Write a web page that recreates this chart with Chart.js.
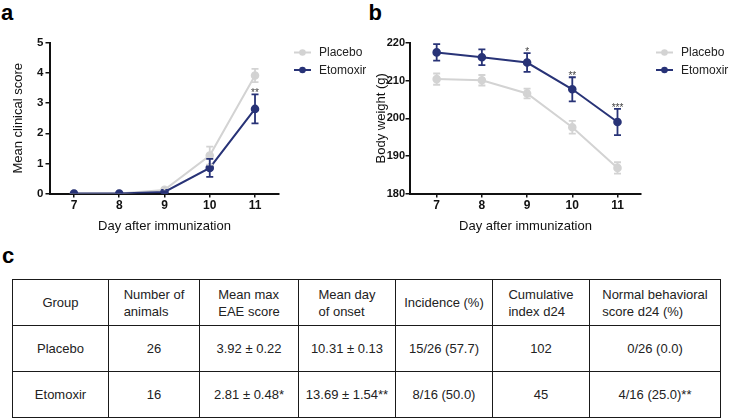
<!DOCTYPE html>
<html><head><meta charset="utf-8">
<script src="https://cdn.jsdelivr.net/npm/chart.js@4.4.0/dist/chart.umd.min.js"></script>
<style>
html,body{margin:0;padding:0;background:#fff;}
body{width:732px;height:420px;overflow:hidden;position:relative;font-family:'Liberation Sans',Arial,sans-serif;}
.wrap{position:absolute;top:0;width:366px;height:250px;}
.lbl{position:absolute;font-weight:bold;font-size:22px;line-height:22px;color:#000;}
table{position:absolute;left:12px;top:279px;border-collapse:collapse;font-size:13px;color:#222;table-layout:fixed;}
td{border:1.6px solid #1a1a1a;text-align:center;padding:0;vertical-align:middle;}
tr{height:46px;}
.hd{display:inline-block;text-align:left;line-height:17px;}
</style></head>
<body>
<div class="lbl" style="left:1px;top:1.5px">a</div>
<div class="lbl" style="left:368.5px;top:1.5px">b</div>
<div class="lbl" style="left:2px;top:245px">c</div>
<div class="wrap" style="left:0"><canvas id="ca" width="366" height="250"></canvas></div>
<div class="wrap" style="left:366px"><canvas id="cb" width="366" height="250"></canvas></div>
<table id="tbl"></table>
<script>
// ---- data ----
const days = [7, 8, 9, 10, 11];
const seriesNames = ['Placebo', 'Etomoxir'];
const scorePlacebo = [0, 0, 0.12, 1.26, 3.92];
const scorePlaceboErr = [0, 0, 0.06, 0.3, 0.22];
const scoreEtomoxir = [0, 0, 0.05, 0.85, 2.81];
const scoreEtomoxirErr = [0, 0, 0.03, 0.3, 0.48];
const scoreStars = ['', '', '', '', '**'];
const weightPlacebo = [210.4, 210.1, 206.6, 197.6, 186.8];
const weightPlaceboErr = [1.5, 1.4, 1.3, 1.7, 1.5];
const weightEtomoxir = [217.5, 216.2, 214.8, 207.7, 199.0];
const weightEtomoxirErr = [2.2, 2.1, 2.5, 3.2, 3.5];
const weightStars = ['', '', '*', '**', '***'];
const scoreTicks = [0, 1, 2, 3, 4, 5];
const weightTicks = [180, 190, 200, 210, 220];

const tableHeader = ['Group', 'Number of\nanimals', 'Mean max\nEAE score', 'Mean day\nof onset', 'Incidence (%)', 'Cumulative\nindex d24', 'Normal behavioral\nscore d24 (%)'];
const rowPlacebo = ['Placebo', '26', '3.92 ± 0.22', '10.31 ± 0.13', '15/26 (57.7)', '102', '0/26 (0.0)'];
const rowEtomoxir = ['Etomoxir', '16', '2.81 ± 0.48*', '13.69 ± 1.54**', '8/16 (50.0)', '45', '4/16 (25.0)**'];
const colWidths = [96, 91, 99, 97, 97, 97, 131];

// ---- styles ----
const NAVY = '#283377';
const GRAY = '#d3d3d3';
const FONT = "'Liberation Sans', Arial, sans-serif";

const errPlugin = {
  id: 'errbars',
  afterDatasetsDraw(chart) {
    const ctx = chart.ctx;
    const ys = chart.scales.y, xs = chart.scales.x;
    const errs = chart.options.plugins.errbars.errs;
    [0, 1].forEach(di => {
      const ds = chart.data.datasets[di];
      ctx.save();
      ctx.strokeStyle = ds.borderColor;
      ctx.lineWidth = 1.8;
      ds.data.forEach((p, i) => {
        const e = errs[di][i];
        if (!e) return;
        const x = xs.getPixelForValue(p.x);
        const y1 = ys.getPixelForValue(p.y + e);
        const y2 = ys.getPixelForValue(p.y - e);
        ctx.beginPath();
        ctx.moveTo(x, y1); ctx.lineTo(x, y2);
        ctx.moveTo(x - 3.5, y1); ctx.lineTo(x + 3.5, y1);
        ctx.moveTo(x - 3.5, y2); ctx.lineTo(x + 3.5, y2);
        ctx.stroke();
      });
      ctx.restore();
    });
    // stars above Etomoxir error bars
    const stars = chart.options.plugins.errbars.stars;
    const eds = chart.data.datasets[1];
    ctx.save();
    ctx.fillStyle = '#444';
    ctx.font = '10px ' + FONT;
    ctx.textAlign = 'center';
    ctx.textBaseline = 'alphabetic';
    stars.forEach((s, i) => {
      if (!s) return;
      const p = eds.data[i];
      const x = xs.getPixelForValue(p.x);
      const y = ys.getPixelForValue(p.y + errs[1][i]);
      ctx.fillText(s, x, y + 2);
    });
    ctx.restore();
  }
};

const legendPlugin = {
  id: 'legendLP',
  afterDraw(chart) {
    const ctx = chart.ctx;
    const x0 = chart.chartArea.right + 15;
    const rows = [[seriesNames[0], GRAY, 52.5], [seriesNames[1], NAVY, 70]];
    ctx.save();
    rows.forEach(([name, col, y]) => {
      ctx.strokeStyle = col; ctx.fillStyle = col; ctx.lineWidth = 2;
      ctx.beginPath(); ctx.moveTo(x0, y); ctx.lineTo(x0 + 17, y); ctx.stroke();
      ctx.beginPath(); ctx.arc(x0 + 8.5, y, 3.3, 0, Math.PI * 2); ctx.fill();
      ctx.fillStyle = '#222';
      ctx.font = '12px ' + FONT;
      ctx.textAlign = 'left'; ctx.textBaseline = 'middle';
      ctx.fillText(name, x0 + 25, y + 0.5);
    });
    ctx.restore();
  }
};

function pts(vals) { return vals.map((v, i) => ({ x: days[i], y: v })); }

function makeChart(id, cfg) {
  return new Chart(document.getElementById(id), {
    type: 'line',
    data: {
      datasets: [
        { label: seriesNames[0], data: pts(cfg.placebo), borderColor: GRAY, backgroundColor: GRAY,
          pointBackgroundColor: GRAY, pointBorderColor: GRAY, borderWidth: 2, pointRadius: 3.3, order: 1 },
        { label: seriesNames[1], data: pts(cfg.eto), borderColor: NAVY, backgroundColor: NAVY,
          pointBackgroundColor: NAVY, pointBorderColor: NAVY, borderWidth: 2, pointRadius: 3.3, order: 0 }
      ]
    },
    options: {
      responsive: false, animation: false, devicePixelRatio: 1,
      layout: { padding: { left: 0, right: cfg.padRight, top: 43, bottom: 0 } },
      plugins: {
        legend: { display: false }, tooltip: { enabled: false },
        errbars: { errs: [cfg.placeboErr, cfg.etoErr], stars: cfg.stars }
      },
      scales: {
        x: {
          type: 'linear', min: cfg.xmin, max: cfg.xmax,
          afterBuildTicks: s => { s.ticks = days.map(v => ({ value: v })); },
          afterFit: s => { s.height = 56.5; },
          ticks: { font: { family: FONT, size: 12, weight: 'bold' }, color: '#111', padding: 1 },
          grid: { drawOnChartArea: false, drawTicks: true, tickLength: 4, color: '#111', lineWidth: 1.5 },
          border: { color: '#111', width: 2 },
          title: { display: true, text: 'Day after immunization', font: { family: FONT, size: 13 }, color: '#111', padding: { top: 0, bottom: 15.5 } }
        },
        y: {
          min: cfg.ymin, max: cfg.ymax,
          afterBuildTicks: s => { s.ticks = cfg.yticks.map(v => ({ value: v })); },
          afterFit: s => { s.width = cfg.yWidth; },
          ticks: { font: { family: FONT, size: cfg.ytickSize, weight: 'bold' }, color: '#111', padding: cfg.ytickPad },
          grid: { drawOnChartArea: false, drawTicks: true, tickLength: 4.5, color: '#111', lineWidth: 1.5 },
          border: { color: '#111', width: 2 },
          title: { display: true, text: cfg.ytitle, font: { family: FONT, size: 13 }, color: '#111', padding: { top: cfg.titlePad, bottom: 0 } }
        }
      }
    },
    plugins: [errPlugin, legendPlugin]
  });
}

makeChart('ca', {
  placebo: scorePlacebo, placeboErr: scorePlaceboErr, eto: scoreEtomoxir, etoErr: scoreEtomoxirErr,
  stars: scoreStars, ymin: 0, ymax: 5, yticks: scoreTicks, ytitle: 'Mean clinical score',
  xmin: 6.47, xmax: 11.53, padRight: 87, yWidth: 50, titlePad: 10.5, ytickSize: 11.5, ytickPad: 2
});
makeChart('cb', {
  placebo: weightPlacebo, placeboErr: weightPlaceboErr, eto: weightEtomoxir, etoErr: weightEtomoxirErr,
  stars: weightStars, ymin: 180, ymax: 220, yticks: weightTicks, ytitle: 'Body weight (g)',
  xmin: 6.41, xmax: 11.52, padRight: 91, yWidth: 44, titlePad: 7.5, ytickSize: 11, ytickPad: 0.5
});

// ---- table ----
const tbl = document.getElementById('tbl');
const cg = document.createElement('colgroup');
colWidths.forEach(w => { const c = document.createElement('col'); c.style.width = w + 'px'; cg.appendChild(c); });
tbl.appendChild(cg);
function addRow(cells, header) {
  const tr = document.createElement('tr');
  cells.forEach(t => {
    const td = document.createElement('td');
    if (header) {
      const d = document.createElement('span');
      d.className = 'hd';
      t.split('\n').forEach((line, k) => {
        if (k) d.appendChild(document.createElement('br'));
        d.appendChild(document.createTextNode(line));
      });
      td.appendChild(d);
    } else td.textContent = t;
    tr.appendChild(td);
  });
  tbl.appendChild(tr);
}
addRow(tableHeader, true);
addRow(rowPlacebo, false);
addRow(rowEtomoxir, false);
</script>
</body></html>
